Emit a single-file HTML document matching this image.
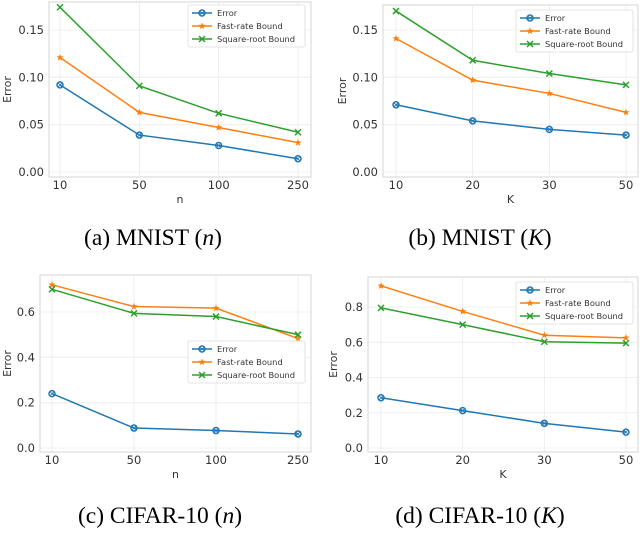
<!DOCTYPE html>
<html><head><meta charset="utf-8"><style>
body{margin:0;background:#fff;}
svg text{font-family:"DejaVu Sans","Liberation Sans",sans-serif;fill:#333;}
.cap{font-family:"Liberation Serif",serif;font-size:23.5px;fill:#000;}
</style></head><body>
<svg id="s" width="640" height="528" xmlns="http://www.w3.org/2000/svg">
<text class="cap" x="153" y="245" text-anchor="middle">(a) MNIST (<tspan font-style="italic">n</tspan>)</text>
<text class="cap" x="480" y="245" text-anchor="middle">(b) MNIST (<tspan font-style="italic">K</tspan>)</text>
<text class="cap" x="160" y="523" text-anchor="middle">(c) CIFAR-10 (<tspan font-style="italic">n</tspan>)</text>
<text class="cap" x="480" y="523" text-anchor="middle">(d) CIFAR-10 (<tspan font-style="italic">K</tspan>)</text>
</svg>
<script>
const catsA=["10","50","100","250"];
const errA=[0.092,0.039,0.028,0.014];
const fastA=[0.121,0.063,0.047,0.031];
const sqA=[0.174,0.091,0.062,0.042];
const ticksA=[0,0.05,0.10,0.15];
const catsB=["10","20","30","50"];
const errB=[0.071,0.054,0.045,0.039];
const fastB=[0.141,0.097,0.083,0.063];
const sqB=[0.170,0.118,0.104,0.092];
const ticksB=[0,0.05,0.10,0.15];
const catsC=["10","50","100","250"];
const errC=[0.24,0.088,0.077,0.062];
const fastC=[0.72,0.624,0.617,0.483];
const sqC=[0.70,0.594,0.58,0.50];
const ticksC=[0,0.2,0.4,0.6];
const catsD=["10","20","30","50"];
const errD=[0.285,0.212,0.14,0.09];
const fastD=[0.92,0.775,0.64,0.625];
const sqD=[0.795,0.70,0.603,0.595];
const ticksD=[0,0.2,0.4,0.6,0.8];
const NS="http://www.w3.org/2000/svg";
const svg=document.getElementById('s');
function mk(tag,attrs,parent){const e=document.createElementNS(NS,tag);for(const k in attrs)e.setAttribute(k,attrs[k]);(parent||svg).appendChild(e);return e;}
const COL=["#1f77b4","#ff7f0e","#2ca02c"];
const NAMES=["Error","Fast-rate Bound","Square-root Bound"];
function marker(g,kind,x,y,c){
  if(kind===0){const m=mk('circle',{cx:x,cy:y,r:3,fill:'none',stroke:c,'stroke-width':1.5},g);
    
    mk('path',{d:`M${x-2} ${y-2}L${x+2} ${y+2}M${x-2} ${y+2}L${x+2} ${y-2}`,stroke:c,'stroke-width':0.8},g);}
  else if(kind===1){let p='';for(let i=0;i<10;i++){const r=i%2?1.6:3.8,a=-Math.PI/2+i*Math.PI/5;p+=(i?'L':'M')+(x+r*Math.cos(a)).toFixed(1)+' '+(y+r*Math.sin(a)).toFixed(1);}
    const m=mk('path',{d:p+'Z',fill:c},g);}
  else{const m=mk('path',{d:`M${x-3} ${y-3}L${x+3} ${y+3}M${x-3} ${y+3}L${x+3} ${y-3}`,stroke:c,'stroke-width':1.5},g);
    }
}
function chart(id,cfg,cats,series,ticks,fmt,xlabel){
  const g=mk('g',{});
  
  
  const {L,R,T,B,x0,x1,y0v,y0,y1v,y1}=cfg;
  const xs=i=>x0+(x1-x0)*i/(cats.length-1);
  const ys=v=>y0+(y1-y0)*(v-y0v)/(y1v-y0v);
  for(const t of ticks){const y=ys(t);
    const gl=mk('line',{x1:L,x2:R,y1:y,y2:y,stroke:'#ebebeb','stroke-width':0.8},g);
    
    const tx=mk('text',{x:L-5,y:y+4,'text-anchor':'end','font-size':11.5},g);tx.textContent=t.toFixed(fmt);
    }
  cats.forEach((c,i)=>{const x=xs(i);
    const gl=mk('line',{x1:x,x2:x,y1:T,y2:B,stroke:'#ebebeb','stroke-width':0.8},g);
    
    const tx=mk('text',{x:x,y:B+12,'text-anchor':'middle','font-size':11.5},g);tx.textContent=c;
    });
  const fr=mk('rect',{x:L,y:T,width:R-L,height:B-T,fill:'none',stroke:'#dcdcdc','stroke-width':1.2},g);
  
  const xl=mk('text',{x:(L+R)/2,y:B+26,'text-anchor':'middle','font-size':11},g);xl.textContent=xlabel;
  
  const yx=cfg.yl, yy=(T+B)/2;
  const yl=mk('text',{x:yx,y:yy,'text-anchor':'middle','font-size':11,transform:`rotate(-90 ${yx} ${yy})`},g);yl.textContent='Error';
  
  series.forEach((s,k)=>{
    const pl=mk('polyline',{points:s.map((v,i)=>xs(i)+','+ys(v)).join(' '),fill:'none',stroke:COL[k],'stroke-width':1.5},g);
    
    
    s.forEach((v,i)=>marker(g,k,xs(i),ys(v),COL[k]));
  });
  const lg=mk('g',{},g);
  
  
  const [lx,ly]=cfg.leg;
  mk('rect',{x:lx,y:ly,width:117,height:42,rx:2,fill:'#fff','fill-opacity':0.85,stroke:'#dcdcdc','stroke-width':0.8},lg);
  NAMES.forEach((n,k)=>{const y=ly+8+k*13;
    mk('line',{x1:lx+4,x2:lx+24,y1:y,y2:y,stroke:COL[k],'stroke-width':1.5},lg);
    marker(lg,k,lx+14,y,COL[k]);
    const t=mk('text',{x:lx+29,y:y+3,'font-size':8.3},lg);t.textContent=n;
    });
}
chart('a',{L:49,R:311,T:2,B:177,x0:60,x1:298,y0v:0,y0:172,y1v:0.15,y1:30,yl:11,leg:[188,5]},catsA,[errA,fastA,sqA],ticksA,2,'n');
chart('b',{L:383,R:638,T:5,B:177,x0:396,x1:626,y0v:0,y0:172,y1v:0.15,y1:30,yl:346,leg:[516,10]},catsB,[errB,fastB,sqB],ticksB,2,'K');
chart('c',{L:40,R:311,T:275,B:452,x0:52,x1:298,y0v:0,y0:448,y1v:0.6,y1:312,yl:11,leg:[188,341]},catsC,[errC,fastC,sqC],ticksC,1,'n');
chart('d',{L:368,R:638,T:277,B:452,x0:381,x1:626,y0v:0,y0:448,y1v:0.8,y1:307,yl:337,leg:[516,282]},catsD,[errD,fastD,sqD],ticksD,1,'K');
</script>
</body></html>
